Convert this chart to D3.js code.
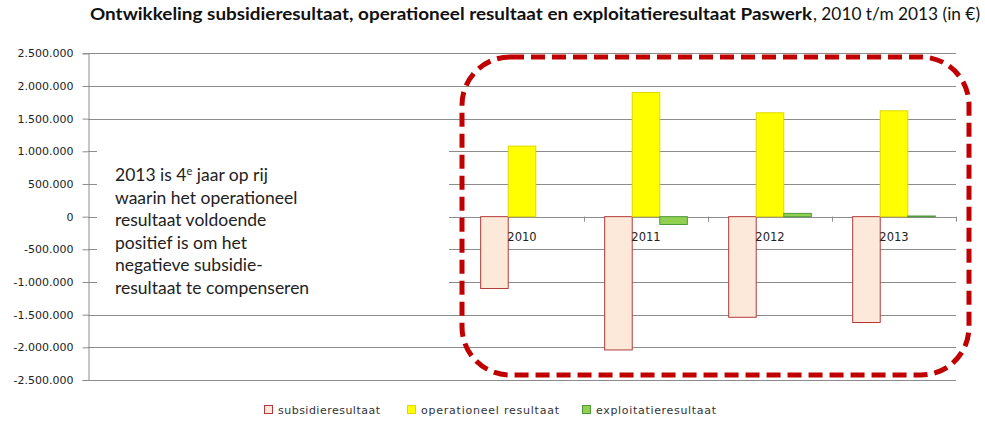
<!DOCTYPE html>
<html>
<head>
<meta charset="utf-8">
<script src="https://cdn.jsdelivr.net/npm/d3@7"></script>
<style>
  body { margin: 0; background: #fff; }
</style>
</head>
<body>
<script>
// data (in euro)
var years = ["2010", "2011", "2012", "2013"];
var emptySlots = 3;   // the chart leaves three empty category slots on the left
var subsidie = [-1100000, -2040000, -1540000, -1620000];
var operationeel = [1080000, 1900000, 1590000, 1620000];
var exploitatie = [0, -120000, 50000, 10000];
var yTicks = [2500000, 2000000, 1500000, 1000000, 500000, 0, -500000, -1000000, -1500000, -2000000, -2500000];
var seriesNames = ["subsidieresultaat", "operationeel resultaat", "exploitatieresultaat"];
var noteLines = ["2013 is 4", "waarin het operationeel", "resultaat voldoende", "positief is om het", "negatieve subsidie-", "resultaat te compenseren"];

var w = 985, h = 423;
var plotLeft = 88, plotRight = 956, plotTop = 53.3, plotBottom = 380;

var nl = d3.formatLocale({decimal: ",", thousands: ".", grouping: [3], currency: ["€", ""], minus: "-"});
var fmt = nl.format(",d");

var svg = d3.select("body").append("svg")
  .attr("width", w)
  .attr("height", h);

var y = d3.scaleLinear().domain([-2500000, 2500000]).range([plotBottom, plotTop]);
var slot = d3.scaleBand().domain(d3.range(emptySlots + years.length)).range([plotLeft, plotRight]);

// bars are width bandwidth/4.5 (gap width 150%)
var barW = slot.bandwidth() / 4.5;
function barX(i, s) { return slot(i + emptySlots) + slot.bandwidth() / 2 - 1.5 * barW + s * barW; }

// gridlines
svg.append("g").selectAll("line")
  .data(yTicks)
  .enter()
  .append("line")
  .attr("x1", plotLeft).attr("x2", plotRight)
  .attr("y1", function(d) { return Math.round(y(d)) + 0.5; })
  .attr("y2", function(d) { return Math.round(y(d)) + 0.5; })
  .attr("stroke", "#8c8c8c")
  .attr("stroke-width", 1);

// zero axis line
svg.append("line")
  .attr("x1", plotLeft).attr("x2", plotRight)
  .attr("y1", Math.round(y(0)) + 0.5).attr("y2", Math.round(y(0)) + 0.5)
  .attr("stroke", "#8c8c8c");

// bars
var styles = [
  {fill: "#fde9d9", stroke: "#b23a3a"},
  {fill: "#ffff00", stroke: "#e0d800"},
  {fill: "#92d050", stroke: "#4f9a3a"}
];
[subsidie, operationeel, exploitatie].forEach(function(vals, s) {
  svg.append("g").selectAll("rect")
    .data(vals)
    .enter()
    .append("rect")
    .attr("x", function(d, i) { return barX(i, s); })
    .attr("y", function(d) { return y(Math.max(0, d)); })
    .attr("width", barW)
    .attr("height", function(d) { return Math.abs(y(d) - y(0)); })
    .attr("fill", styles[s].fill)
    .attr("stroke", styles[s].stroke)
    .attr("stroke-width", 1);
});

// category boundary ticks on the zero line
var bounds = d3.range(emptySlots + years.length).map(function(i) { return slot(i); }).concat([plotRight]);
svg.append("g").selectAll("line")
  .data(bounds.slice(1))
  .enter()
  .append("line")
  .attr("x1", function(d) { return Math.round(d) + 0.5; })
  .attr("x2", function(d) { return Math.round(d) + 0.5; })
  .attr("y1", y(0)).attr("y2", y(0) + 5)
  .attr("stroke", "#8c8c8c");

// white box of the note covers the gridlines
svg.append("rect")
  .attr("x", 97).attr("y", 128).attr("width", 352).attr("height", 172)
  .attr("fill", "#fff");

// category labels
svg.append("g").selectAll("text")
  .data(years)
  .enter()
  .append("text")
  .text(function(d) { return d; })
  .attr("x", function(d, i) { return slot(i + emptySlots) + slot.bandwidth() / 2; })
  .attr("y", 241)
  .attr("text-anchor", "middle")
  .attr("font-family", "DejaVu Sans")
  .attr("font-size", "11.5px")
  .attr("fill", "#222");

// y axis
var yAxis = d3.axisLeft(y).tickValues(yTicks).tickFormat(fmt).tickSize(6).tickPadding(9);
var ga = svg.append("g")
  .attr("transform", "translate(" + (plotLeft + 0.5) + ",0)")
  .call(yAxis);
ga.select(".domain").attr("stroke", "#8c8c8c");
ga.selectAll(".tick line").attr("stroke", "#8c8c8c");
ga.selectAll(".tick text")
  .attr("font-family", "DejaVu Sans")
  .attr("font-size", "11px")
  .attr("fill", "#222");

// note
var note = svg.append("g")
  .attr("font-family", "Lato")
  .attr("font-size", "17.5px")
  .attr("fill", "#222");
noteLines.forEach(function(line, k) {
  var t = note.append("text")
    .attr("x", 115)
    .attr("y", 181 + k * 22.5)
    .text(line);
  if (k == 0) {
    t.append("tspan").attr("dy", -6).attr("font-size", "11px").text("e");
    t.append("tspan").attr("dy", 6).text(" jaar op rij");
  }
});

// dashed rounded frame
svg.append("rect")
  .attr("x", 462).attr("y", 57)
  .attr("width", 507).attr("height", 318)
  .attr("rx", 48).attr("ry", 48)
  .attr("fill", "none")
  .attr("stroke", "#c00000")
  .attr("stroke-width", 5)
  .attr("stroke-dasharray", "14 7");

// title
svg.append("text")
  .attr("x", 90).attr("y", 20)
  .attr("font-family", "Lato").attr("font-weight", "bold")
  .attr("font-size", "17px")
  .attr("textLength", 722).attr("lengthAdjust", "spacingAndGlyphs")
  .attr("fill", "#111")
  .text("Ontwikkeling subsidieresultaat, operationeel resultaat en exploitatieresultaat Paswerk");
svg.append("text")
  .attr("x", 813).attr("y", 20)
  .attr("font-family", "Lato")
  .attr("font-size", "17px")
  .attr("textLength", 167).attr("lengthAdjust", "spacingAndGlyphs")
  .attr("fill", "#111")
  .text(", 2010 t/m 2013 (in €)");

// legend
var legX = [264, 407, 582];
var legLen = [102, 138, 120];
var leg = svg.append("g").selectAll("g")
  .data(seriesNames)
  .enter()
  .append("g");
leg.append("rect")
  .attr("x", function(d, i) { return legX[i] + 0.5; })
  .attr("y", 405.5)
  .attr("width", 8).attr("height", 8)
  .attr("fill", function(d, i) { return styles[i].fill; })
  .attr("stroke", function(d, i) { return styles[i].stroke; });
leg.append("text")
  .attr("x", function(d, i) { return legX[i] + 14; })
  .attr("y", 413.5)
  .attr("textLength", function(d, i) { return legLen[i]; })
  .attr("lengthAdjust", "spacing")
  .attr("font-family", "DejaVu Sans")
  .attr("font-size", "11px")
  .attr("fill", "#333")
  .text(function(d) { return d; });
</script>
</body>
</html>
